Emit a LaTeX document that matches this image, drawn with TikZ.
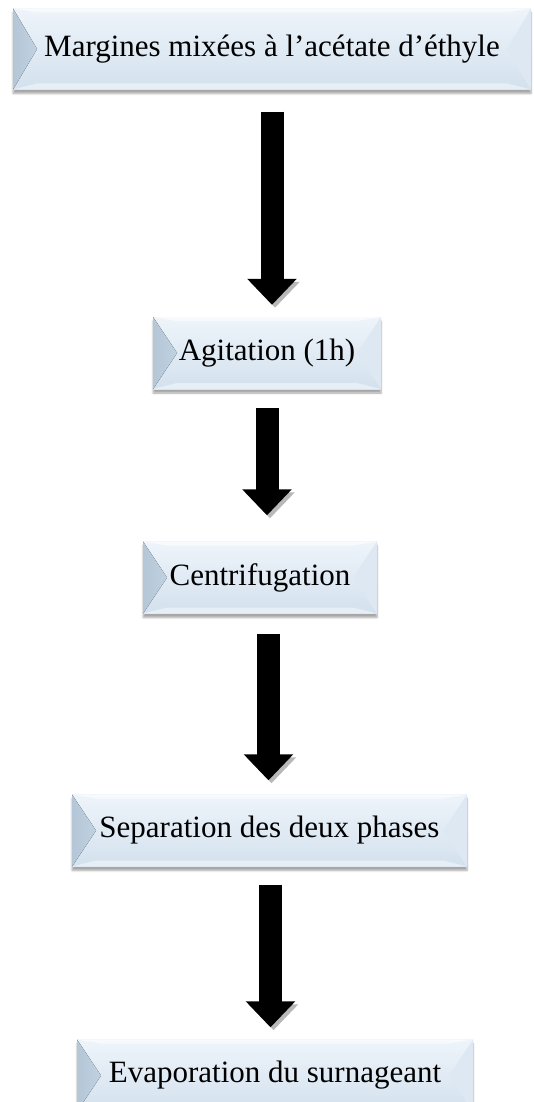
\documentclass[tikz,border=0pt]{standalone}
\usepackage{fontspec}
\setmainfont{Liberation Serif}
\usepackage{tikz}
\usetikzlibrary{positioning,calc,arrows.meta,shadows.blur}
\definecolor{facetop}{HTML}{EEF4FA}
\definecolor{facebot}{HTML}{D3E1EE}
\definecolor{bevleft}{HTML}{B4C6D7}
\definecolor{bevright}{HTML}{DDE8F3}
\tikzstyle{stepbox} = [rectangle, minimum height=72pt, inner sep=0pt, top color=facetop, bottom color=facebot, font=\fontsize{31}{37}\selectfont,
  blur shadow={shadow xshift=0pt, shadow yshift=-4pt, shadow blur steps=6, shadow opacity=35},
  path picture={
    \coordinate (nw) at (path picture bounding box.north west);
    \coordinate (ne) at (path picture bounding box.north east);
    \coordinate (sw) at (path picture bounding box.south west);
    \coordinate (se) at (path picture bounding box.south east);
    \fill[white, opacity=.6] (nw) -- (ne) -- ([xshift=-24pt,yshift=-4pt]ne) -- ([xshift=24pt,yshift=-4pt]nw) -- cycle;
    \fill[facetop!70!facebot] (sw) -- (se) -- ([xshift=-24pt,yshift=6pt]se) -- ([xshift=24pt,yshift=6pt]sw) -- cycle;
    \fill[left color=bevleft, right color=bevleft!60!facebot] (nw) -- (sw) -- ([xshift=24pt]path picture bounding box.west) -- cycle;
    \fill[bevright] (ne) -- (se) -- ([xshift=-24pt]path picture bounding box.east) -- cycle;
  }]
\tikzstyle{bigarrow} = [line width=23pt, -{Triangle[width=48pt,length=26pt]},
  preaction={draw=black!28, transform canvas={xshift=3pt,yshift=-3pt}}]

\begin{document}
\begin{tikzpicture}[x=1pt, y=-1pt]
    \useasboundingbox (0,0) rectangle (534,1102);
    \node (start) [stepbox, minimum width=518pt, minimum height=81pt] at (272,49) {Margines mixées à l’acétate d’éthyle};
    \node (agit) [stepbox, minimum width=228pt] at (267,353) {Agitation (1h)};
    \node (centri) [stepbox, minimum width=234pt] at (260,577.5) {Centrifugation};
    \node (separ) [stepbox, minimum width=395pt] at (269.5,830.5) {Separation des deux phases};
    \node (evap) [stepbox, minimum width=396pt] at (275,1075.5) {Evaporation du surnageant};

    \draw [bigarrow] ($(start.south)+(0,22)$) -- ($(start.south |- agit.north)+(0,-12)$);
    \draw [bigarrow] ($(agit.south)+(0,19)$) -- ($(agit.south |- centri.north)+(0,-26)$);
    \draw [bigarrow] ($(centri.south -| separ.north)+(-1,20)$) -- ($(separ.north)+(-1,-14)$);
    \draw [bigarrow] ($(separ.south)+(1,18)$) -- ($(separ.south |- evap.north)+(1,-12)$);
\end{tikzpicture}
\end{document}
